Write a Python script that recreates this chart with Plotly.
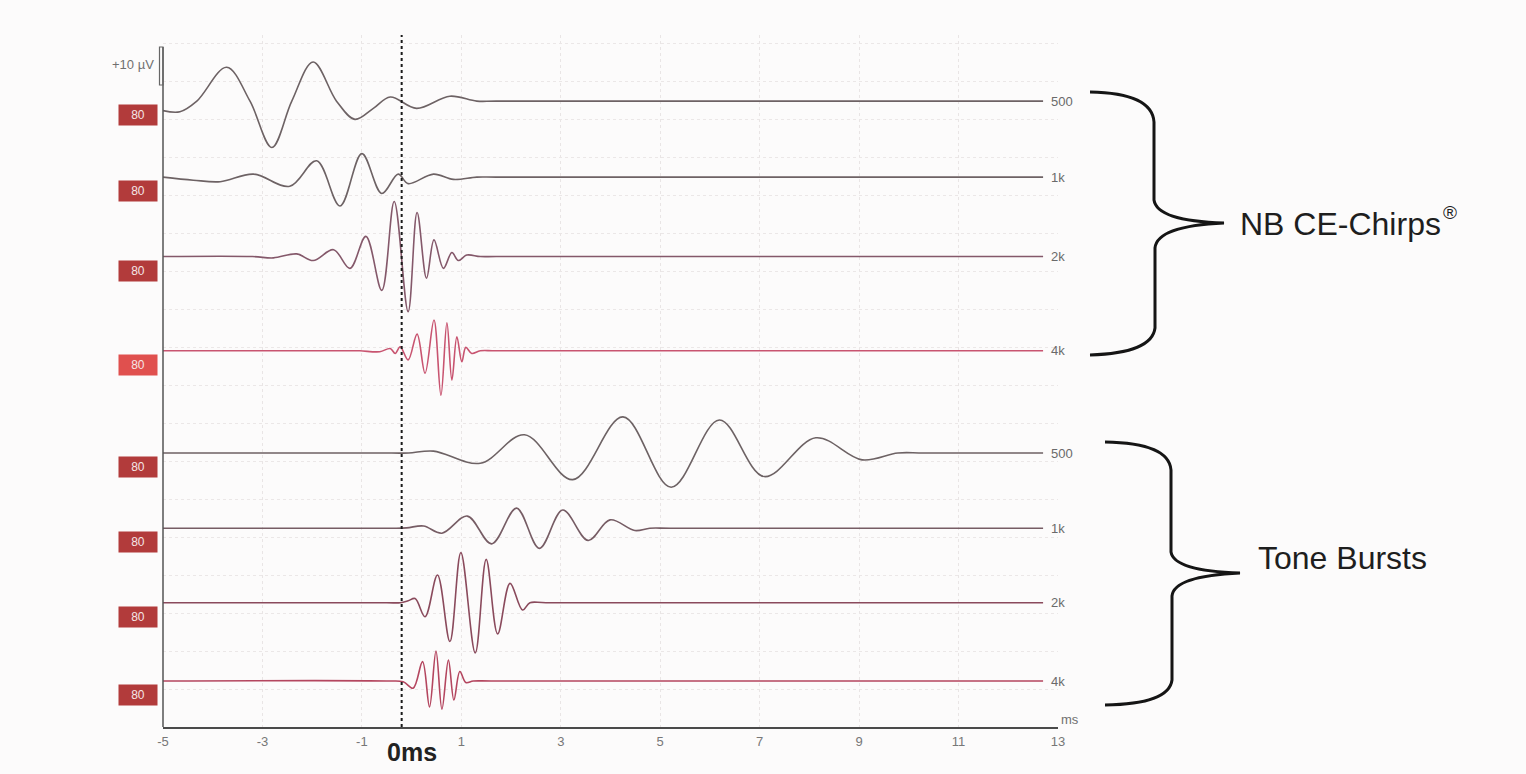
import plotly.graph_objects as go

# ---------------------------------------------------------------- data
# time axis (ms)
x_ticks = [-5, -3, -1, 1, 3, 5, 7, 9, 11, 13]
freq_labels = ["500", "1k", "2k", "4k"]
level_label = "80"

# NB CE-Chirp responses: sample times (ms) and amplitude (µV, relative to trace baseline)
chirp_500_t = [-5.0, -4.66, -4.32, -3.72, -3.25, -2.81, -2.41, -1.98, -1.51, -1.14, -0.77, -0.43, 0.10, 0.77, 1.31, 1.7, 12.7]
chirp_500_v = [-2.5, -2.8, 0.0, 8.9, 0.0, -12.2, 0.0, 10.3, 0.0, -4.8, -1.9, 1.1, -1.9, 1.3, 0.0, 0.0, 0.0]

chirp_1k_t = [-5.0, -4.39, -3.85, -3.18, -2.45, -1.91, -1.44, -1.00, -0.60, -0.27, -0.07, 0.44, 0.84, 1.31, 1.7, 12.7]
chirp_1k_v = [0.0, -0.8, -1.2, 0.8, -2.4, 4.3, -7.6, 6.2, -4.3, 0.8, -1.7, 0.8, -0.6, 0.0, 0.0, 0.0]

chirp_2k_t = [-5.0, -3.2, -2.78, -2.31, -1.98, -1.57, -1.24, -0.92, -0.60, -0.35, -0.07, 0.11, 0.30, 0.45, 0.64, 0.81, 0.94, 1.11, 1.38, 1.7, 12.7]
chirp_2k_v = [0.0, 0.0, -0.35, 0.7, -1.05, 1.8, -3.1, 5.3, -8.9, 14.5, -14.5, 11.6, -5.7, 4.4, -3.1, 1.05, -1.05, 0.4, 0.0, 0.0, 0.0]

chirp_4k_t = [-5.0, -1.3, -1.04, -0.64, -0.43, -0.33, -0.23, -0.07, 0.11, 0.27, 0.45, 0.59, 0.71, 0.81, 0.91, 1.01, 1.09, 1.21, 1.38, 1.7, 12.7]
chirp_4k_v = [0.0, 0.0, 0.0, -0.25, 0.6, -0.7, 1.05, -2.4, 4.4, -5.9, 8.1, -11.7, 7.4, -7.7, 3.7, -2.9, 0.9, -0.7, 0.0, 0.0, 0.0]

# Tone-burst responses
tone_500_t = [-5.0, -0.4, -0.06, 0.44, 1.38, 2.27, 3.24, 4.25, 5.22, 6.19, 7.09, 8.13, 9.06, 9.78, 10.3, 12.7]
tone_500_v = [0.0, 0.0, 0.0, 0.5, -2.7, 4.8, -7.0, 9.5, -9.0, 8.7, -6.2, 4.0, -1.8, 0.0, 0.0, 0.0]

tone_1k_t = [-5.0, -0.4, -0.10, 0.24, 0.61, 1.12, 1.61, 2.11, 2.57, 3.04, 3.55, 3.99, 4.49, 4.79, 5.2, 12.7]
tone_1k_v = [0.0, 0.0, 0.1, 0.6, -1.3, 3.2, -4.1, 5.3, -5.3, 4.8, -3.2, 2.2, -0.6, 0.0, 0.0, 0.0]

tone_2k_t = [-5.0, -0.5, -0.23, -0.07, 0.07, 0.27, 0.52, 0.77, 0.99, 1.28, 1.50, 1.73, 1.98, 2.23, 2.38, 2.7, 12.7]
tone_2k_v = [0.0, 0.0, 0.0, 0.5, 1.1, -3.7, 7.3, -10.2, 13.2, -13.2, 11.4, -8.2, 5.1, -1.9, 0.0, 0.0, 0.0]

tone_4k_t = [-5.0, -0.5, -0.17, 0.03, 0.22, 0.36, 0.49, 0.61, 0.74, 0.85, 0.97, 1.09, 1.24, 1.6, 12.7]
tone_4k_v = [0.0, 0.0, -0.2, -1.9, 5.1, -6.8, 7.9, -7.4, 5.5, -5.0, 2.5, -0.4, 0.0, 0.0, 0.0]

# ---------------------------------------------------------------- layout constants
W, H = 1526, 774
PLOT_L, PLOT_R, PLOT_T, PLOT_B = 163, 1058, 35, 727
X_RANGE = [-5, 13]
PX_PER_UV = 3.8                          # 10 µV ≈ 38 px
Y_TOP = (PLOT_B - PLOT_T) / PX_PER_UV
SCALE_UV = 10
ONSET_MS = -0.2

# vertical stacking of the sweeps (µV above the time axis)
chirp_offsets = [164.7, 144.7, 123.8, 99.0]
tone_offsets = [72.1, 52.3, 32.7, 12.1]

FONT = "Liberation Sans, Arial, sans-serif"
TRACE_GREY = "#6d6264"


def px_x(px):
    return (px - PLOT_L) / (PLOT_R - PLOT_L)


def px_y(py):
    return (PLOT_B - py) / (PLOT_B - PLOT_T)


def ms_to_paper(ms):
    return (ms - X_RANGE[0]) / (X_RANGE[1] - X_RANGE[0])


def uv_to_paper(uv):
    return uv / Y_TOP


def path_from_px(cmds):
    out = []
    for c in cmds:
        if isinstance(c, str):
            out.append(c)
        else:
            out.append(f"{px_x(c[0]):.5f},{px_y(c[1]):.5f}")
    return " ".join(out)


chirps = [
    (chirp_500_t, chirp_500_v, TRACE_GREY, "#b23b3b"),
    (chirp_1k_t, chirp_1k_v, TRACE_GREY, "#b23b3b"),
    (chirp_2k_t, chirp_2k_v, "#84586a", "#b23b3b"),
    (chirp_4k_t, chirp_4k_v, "#c85470", "#e0504e"),
]
tones = [
    (tone_500_t, tone_500_v, TRACE_GREY, "#b23b3b"),
    (tone_1k_t, tone_1k_v, "#765c64", "#b23b3b"),
    (tone_2k_t, tone_2k_v, "#8a4a5c", "#b23b3b"),
    (tone_4k_t, tone_4k_v, "#b4465f", "#b23b3b"),
]

fig = go.Figure()
annotations = []

for (t, v, col, box_col), off, lab in list(zip(chirps, chirp_offsets, freq_labels)) + \
        list(zip(tones, tone_offsets, freq_labels)):
    fig.add_trace(go.Scatter(
        x=t, y=[off + a for a in v], mode="lines",
        line=dict(color=col, width=1.6, shape="spline", smoothing=1.0),
        hoverinfo="skip", showlegend=False,
    ))
    # stimulus level tag at the start of each sweep
    annotations.append(dict(
        xref="paper", yref="y", x=0, y=off, xanchor="right", yanchor="top",
        xshift=-5, yshift=-3, text=level_label, showarrow=False,
        font=dict(family=FONT, size=12, color="#f4e6e6"),
        bgcolor=box_col, width=36, height=18, borderpad=1,
    ))
    # frequency label at the end of each sweep
    annotations.append(dict(
        xref="x", yref="y", x=t[-1], y=off, xanchor="left", yanchor="middle",
        xshift=6, text=lab, showarrow=False,
        font=dict(family=FONT, size=13, color="#6a6a6a"),
    ))

# axis / scale texts and group titles
annotations += [
    dict(xref="paper", yref="paper", x=px_x(156), y=px_y(65), xanchor="right",
         yanchor="middle", text="+10 µV", showarrow=False,
         font=dict(family=FONT, size=13, color="#707070")),
    dict(xref="x", yref="paper", x=0, y=0, xanchor="center", yanchor="top",
         yshift=-9, text="<b>0ms</b>", showarrow=False,
         font=dict(family=FONT, size=25, color="#222222")),
    dict(xref="paper", yref="paper", x=1, y=0, xanchor="left", yanchor="bottom",
         xshift=1, yshift=-2, text="ms", showarrow=False,
         font=dict(family=FONT, size=13, color="#707070")),
    dict(xref="paper", yref="paper", x=px_x(1238), y=px_y(224), xanchor="left",
         yanchor="middle", text="NB CE-Chirps", showarrow=False,
         font=dict(family=FONT, size=32, color="#1e1e1e")),
    dict(xref="paper", yref="paper", x=px_x(1441), y=px_y(212), xanchor="left",
         yanchor="middle", text="®", showarrow=False,
         font=dict(family=FONT, size=19, color="#1e1e1e")),
    dict(xref="paper", yref="paper", x=px_x(1256), y=px_y(558), xanchor="left",
         yanchor="middle", text="Tone Bursts", showarrow=False,
         font=dict(family=FONT, size=32, color="#1e1e1e")),
]

shapes = [
    # vertical (amplitude) axis line, up to the calibration bar
    dict(type="line", xref="paper", yref="paper", x0=0, x1=0,
         y0=0, y1=px_y(47), line=dict(color="#555555", width=1.5)),
    # +10 µV calibration bar
    dict(type="rect", xref="paper", yref="paper", x0=px_x(159.5), x1=0,
         y0=px_y(85), y1=px_y(85) + uv_to_paper(SCALE_UV),
         line=dict(color="#666666", width=1.2)),
    # stimulus onset marker
    dict(type="line", xref="paper", yref="paper", x0=ms_to_paper(ONSET_MS),
         x1=ms_to_paper(ONSET_MS), y0=0, y1=1,
         line=dict(color="#1a1a1a", width=2, dash="3px,3px")),
    # group braces
    dict(type="path", xref="paper", yref="paper",
         path=path_from_px(["M", (1090, 92), "Q", (1152, 93), (1154, 122), "L", (1154, 200),
                            "Q", (1157, 221), (1224, 223), "Q", (1157, 226), (1155, 248),
                            "L", (1155, 328), "Q", (1152, 353), (1090, 355)]),
         line=dict(color="#151515", width=3)),
    dict(type="path", xref="paper", yref="paper",
         path=path_from_px(["M", (1105, 442), "Q", (1169, 443), (1171, 470), "L", (1171, 552),
                            "Q", (1174, 571), (1240, 573), "Q", (1174, 576), (1172, 596),
                            "L", (1172, 680), "Q", (1169, 704), (1105, 705)]),
         line=dict(color="#151515", width=3)),
]

fig.update_layout(
    width=W, height=H,
    margin=dict(l=PLOT_L, r=W - PLOT_R, t=PLOT_T, b=H - PLOT_B, pad=0),
    paper_bgcolor="#fcfbfb", plot_bgcolor="#fcfbfb",
    showlegend=False,
    annotations=annotations, shapes=shapes,
    xaxis=dict(
        range=X_RANGE, tickvals=x_ticks, ticktext=[str(v) for v in x_ticks],
        showgrid=True, gridcolor="#e9e5e5", griddash="dot", gridwidth=1,
        zeroline=False, showline=True, linecolor="#4a4a4a", linewidth=1.5,
        ticks="", ticklabelstandoff=2,
        tickfont=dict(family=FONT, size=13, color="#777777"),
    ),
    yaxis=dict(
        range=[0, Y_TOP], dtick=10, tick0=0, showticklabels=False,
        showgrid=True, gridcolor="#ebe7e7", griddash="dot", gridwidth=1,
        zeroline=False, showline=False, ticks="",
    ),
)

fig.write_html("out.html")
